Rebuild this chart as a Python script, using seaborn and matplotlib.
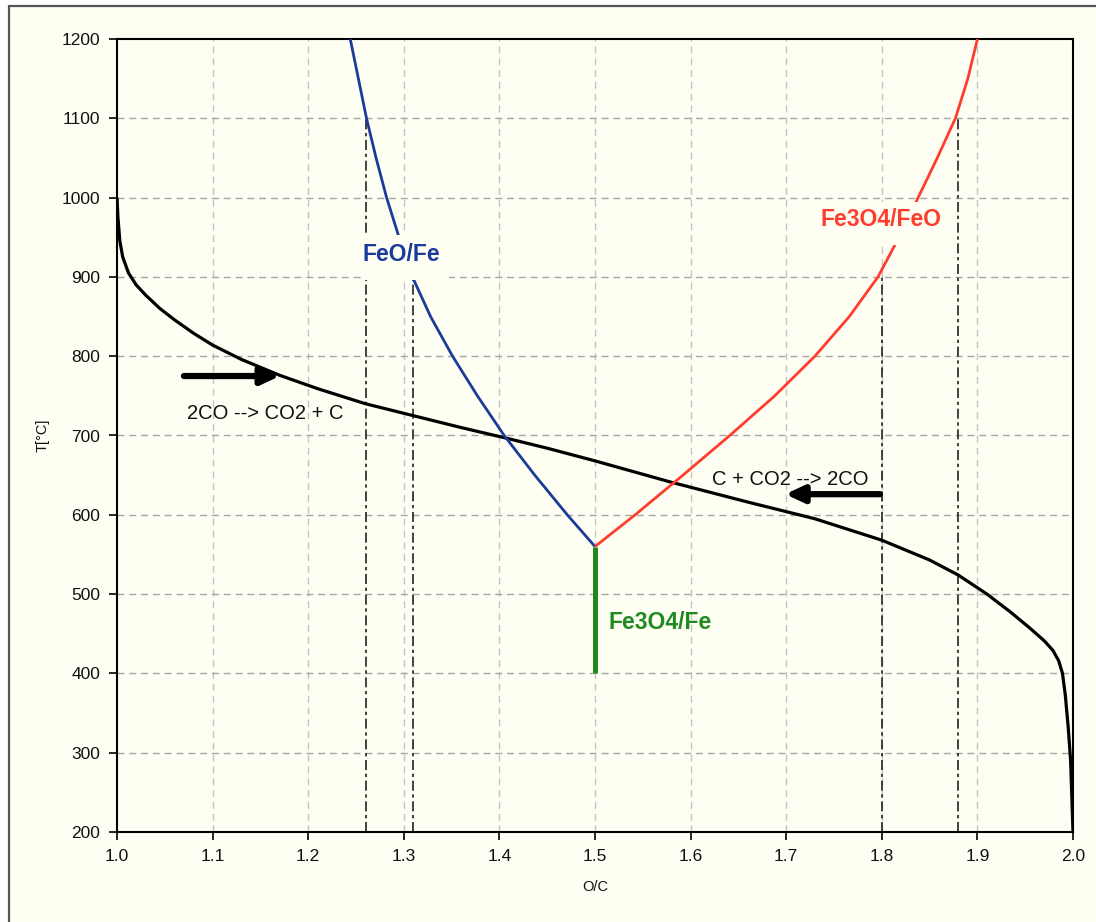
import matplotlib
matplotlib.use("Agg")
import matplotlib.pyplot as plt
from matplotlib.patches import Rectangle
from matplotlib.lines import Line2D
import numpy as np
import pandas as pd
import seaborn as sns

# Boudouard equilibrium: O/C ratio of the gas vs temperature
boudouard_oc = [1.000, 1.001, 1.003, 1.006, 1.012, 1.020, 1.030, 1.045, 1.060, 1.080,
                1.100, 1.130, 1.170, 1.210, 1.260, 1.320, 1.360, 1.406, 1.450, 1.500,
                1.580, 1.660, 1.730, 1.800, 1.850, 1.880, 1.910, 1.935, 1.955, 1.970,
                1.979, 1.985, 1.989, 1.992, 1.995, 1.9975, 2.000]
boudouard_t = [1000, 975, 945, 925, 905, 890, 877, 860, 846, 829,
               814, 796, 776, 759, 740, 722, 710, 697, 684, 668,
               641, 616, 595, 568, 543, 524, 500, 477, 457, 441,
               429, 416, 400, 372, 332, 290, 200]

# FeO / Fe equilibrium
feo_fe_oc = [1.500, 1.471, 1.437, 1.405, 1.377, 1.351, 1.328, 1.309, 1.295, 1.282,
             1.271, 1.261, 1.2525, 1.244]
feo_fe_t = [560, 600, 650, 700, 750, 800, 850, 900, 950, 1000,
            1050, 1100, 1150, 1200]

# Fe3O4 / FeO equilibrium
fe3o4_feo_oc = [1.500, 1.542, 1.592, 1.641, 1.688, 1.730, 1.766, 1.796, 1.818, 1.838,
                1.858, 1.877, 1.890, 1.900]
fe3o4_feo_t = [560, 600, 650, 700, 750, 800, 850, 900, 950, 1000,
               1050, 1100, 1150, 1200]

# Fe3O4 / Fe equilibrium (below 560 °C)
fe3o4_fe_oc = [1.50, 1.50]
fe3o4_fe_t = [400, 560]

# Vertical reference lines: O/C position and the temperature where they stop
guide_oc = [1.26, 1.31, 1.80, 1.88]
guide_top_t = [1100, 900, 900, 1100]

x_ticks = [1.0, 1.1, 1.2, 1.3, 1.4, 1.5, 1.6, 1.7, 1.8, 1.9, 2.0]
y_ticks = [200, 300, 400, 500, 600, 700, 800, 900, 1000, 1100, 1200]

# Reaction direction arrows: (start O/C, end O/C, temperature)
arrow_co_dispro = (1.070, 1.1705, 775)
arrow_co_form = (1.798, 1.699, 626)

CREAM = "#fefef3"
BLUE = "#1b3b9b"
RED = "#ff3d2e"
GREEN = "#1f8a1f"

sns.set_theme(style="white")
plt.rcParams["font.family"] = ["Liberation Sans", "DejaVu Sans"]

fig = plt.figure(figsize=(10.96, 9.22), dpi=100, facecolor="white")
ax = fig.add_axes([117 / 1096, 1 - 832 / 922, (1073 - 117) / 1096, (832 - 39) / 922])
ax.set_facecolor(CREAM)

# page background and frame
fig.patches.append(Rectangle((9 / 1096, 0), 1, 1 - 6 / 922, transform=fig.transFigure,
                             facecolor=CREAM, edgecolor="none", zorder=-10))
fig.add_artist(Line2D([8.5 / 1096, 1], [1 - 6.5 / 922] * 2, transform=fig.transFigure,
                      color="#555555", lw=1.6))
fig.add_artist(Line2D([8.5 / 1096] * 2, [0, 1 - 6.5 / 922], transform=fig.transFigure,
                      color="#555555", lw=1.6))

# grid
for xv in x_ticks[1:-1]:
    ax.axvline(xv, color="#c4c4c4", lw=1.0, ls=(0, (5, 3.5)), zorder=1)
for yv in y_ticks[1:-1]:
    ax.axhline(yv, color="#a6a6a6", lw=1.0, ls=(0, (5, 3.5)), zorder=1)

# guide lines
for gx, gt in zip(guide_oc, guide_top_t):
    ax.plot([gx, gx], [200, gt], color="#222222", lw=1.2, ls=(0, (6, 2.2, 2, 2.2)), zorder=2)

curves = [
    (boudouard_oc, boudouard_t, "black", 2.3),
    (feo_fe_oc, feo_fe_t, BLUE, 2.0),
    (fe3o4_feo_oc, fe3o4_feo_t, RED, 2.0),
    (fe3o4_fe_oc, fe3o4_fe_t, GREEN, 3.6),
]
for xs, ts, col, lw in curves:
    df = pd.DataFrame({"oc": xs, "t": ts})
    sns.lineplot(data=df, x="oc", y="t", sort=False, estimator=None, color=col,
                 lw=lw, ax=ax, zorder=3)
for ln in ax.lines:
    ln.set_solid_joinstyle("round")
    ln.set_solid_capstyle("butt")

# clear space behind the phase labels
ax.add_patch(Rectangle((1.2555, 896), 1.3475 - 1.2555, 953 - 896, facecolor=CREAM,
                       edgecolor="none", zorder=4))
ax.add_patch(Rectangle((1.728, 940), 1.862 - 1.728, 994 - 940, facecolor=CREAM,
                       edgecolor="none", zorder=4))

ax.text(1.2573, 928, "FeO/Fe", color=BLUE, fontsize=16.5, fontweight="bold",
        ha="left", va="center", zorder=5)
ax.text(1.7354, 972, "Fe3O4/FeO", color=RED, fontsize=16.5, fontweight="bold",
        ha="left", va="center", zorder=5)
ax.text(1.5146, 464, "Fe3O4/Fe", color=GREEN, fontsize=16.5, fontweight="bold",
        ha="left", va="center", zorder=5)
ax.text(1.0732, 728, "2CO --> CO2 + C", color="#111111", fontsize=14.5,
        ha="left", va="center", zorder=5)
ax.text(1.6224, 644, "C + CO2 --> 2CO", color="#111111", fontsize=14.5,
        ha="left", va="center", zorder=5)

for x0, x1, t in (arrow_co_dispro, arrow_co_form):
    ax.annotate("", xy=(x1, t), xytext=(x0, t),
                arrowprops=dict(arrowstyle="-|>,head_length=0.9,head_width=0.42",
                                lw=4.5, color="black", shrinkA=0, shrinkB=0),
                zorder=6)

ax.set_xlim(1.0, 2.0)
ax.set_ylim(200, 1200)
ax.set_xticks(x_ticks)
ax.set_yticks(y_ticks)
ax.set_xticklabels([f"{v:.1f}" for v in x_ticks])
ax.set_yticklabels([str(v) for v in y_ticks])
ax.tick_params(axis="both", direction="out", length=6, width=1.2, color="black",
               labelsize=12.5, labelcolor="#111111", pad=6, bottom=True, left=True)
for s in ax.spines.values():
    s.set_color("black")
    s.set_linewidth(1.5)
    s.set_visible(True)

ax.set_xlabel("O/C", fontsize=10.5, labelpad=12, color="#111111")
ax.set_ylabel("T[°C]", fontsize=10.5, labelpad=9, color="#111111")

fig.savefig("out.png", dpi=100, facecolor="white")
